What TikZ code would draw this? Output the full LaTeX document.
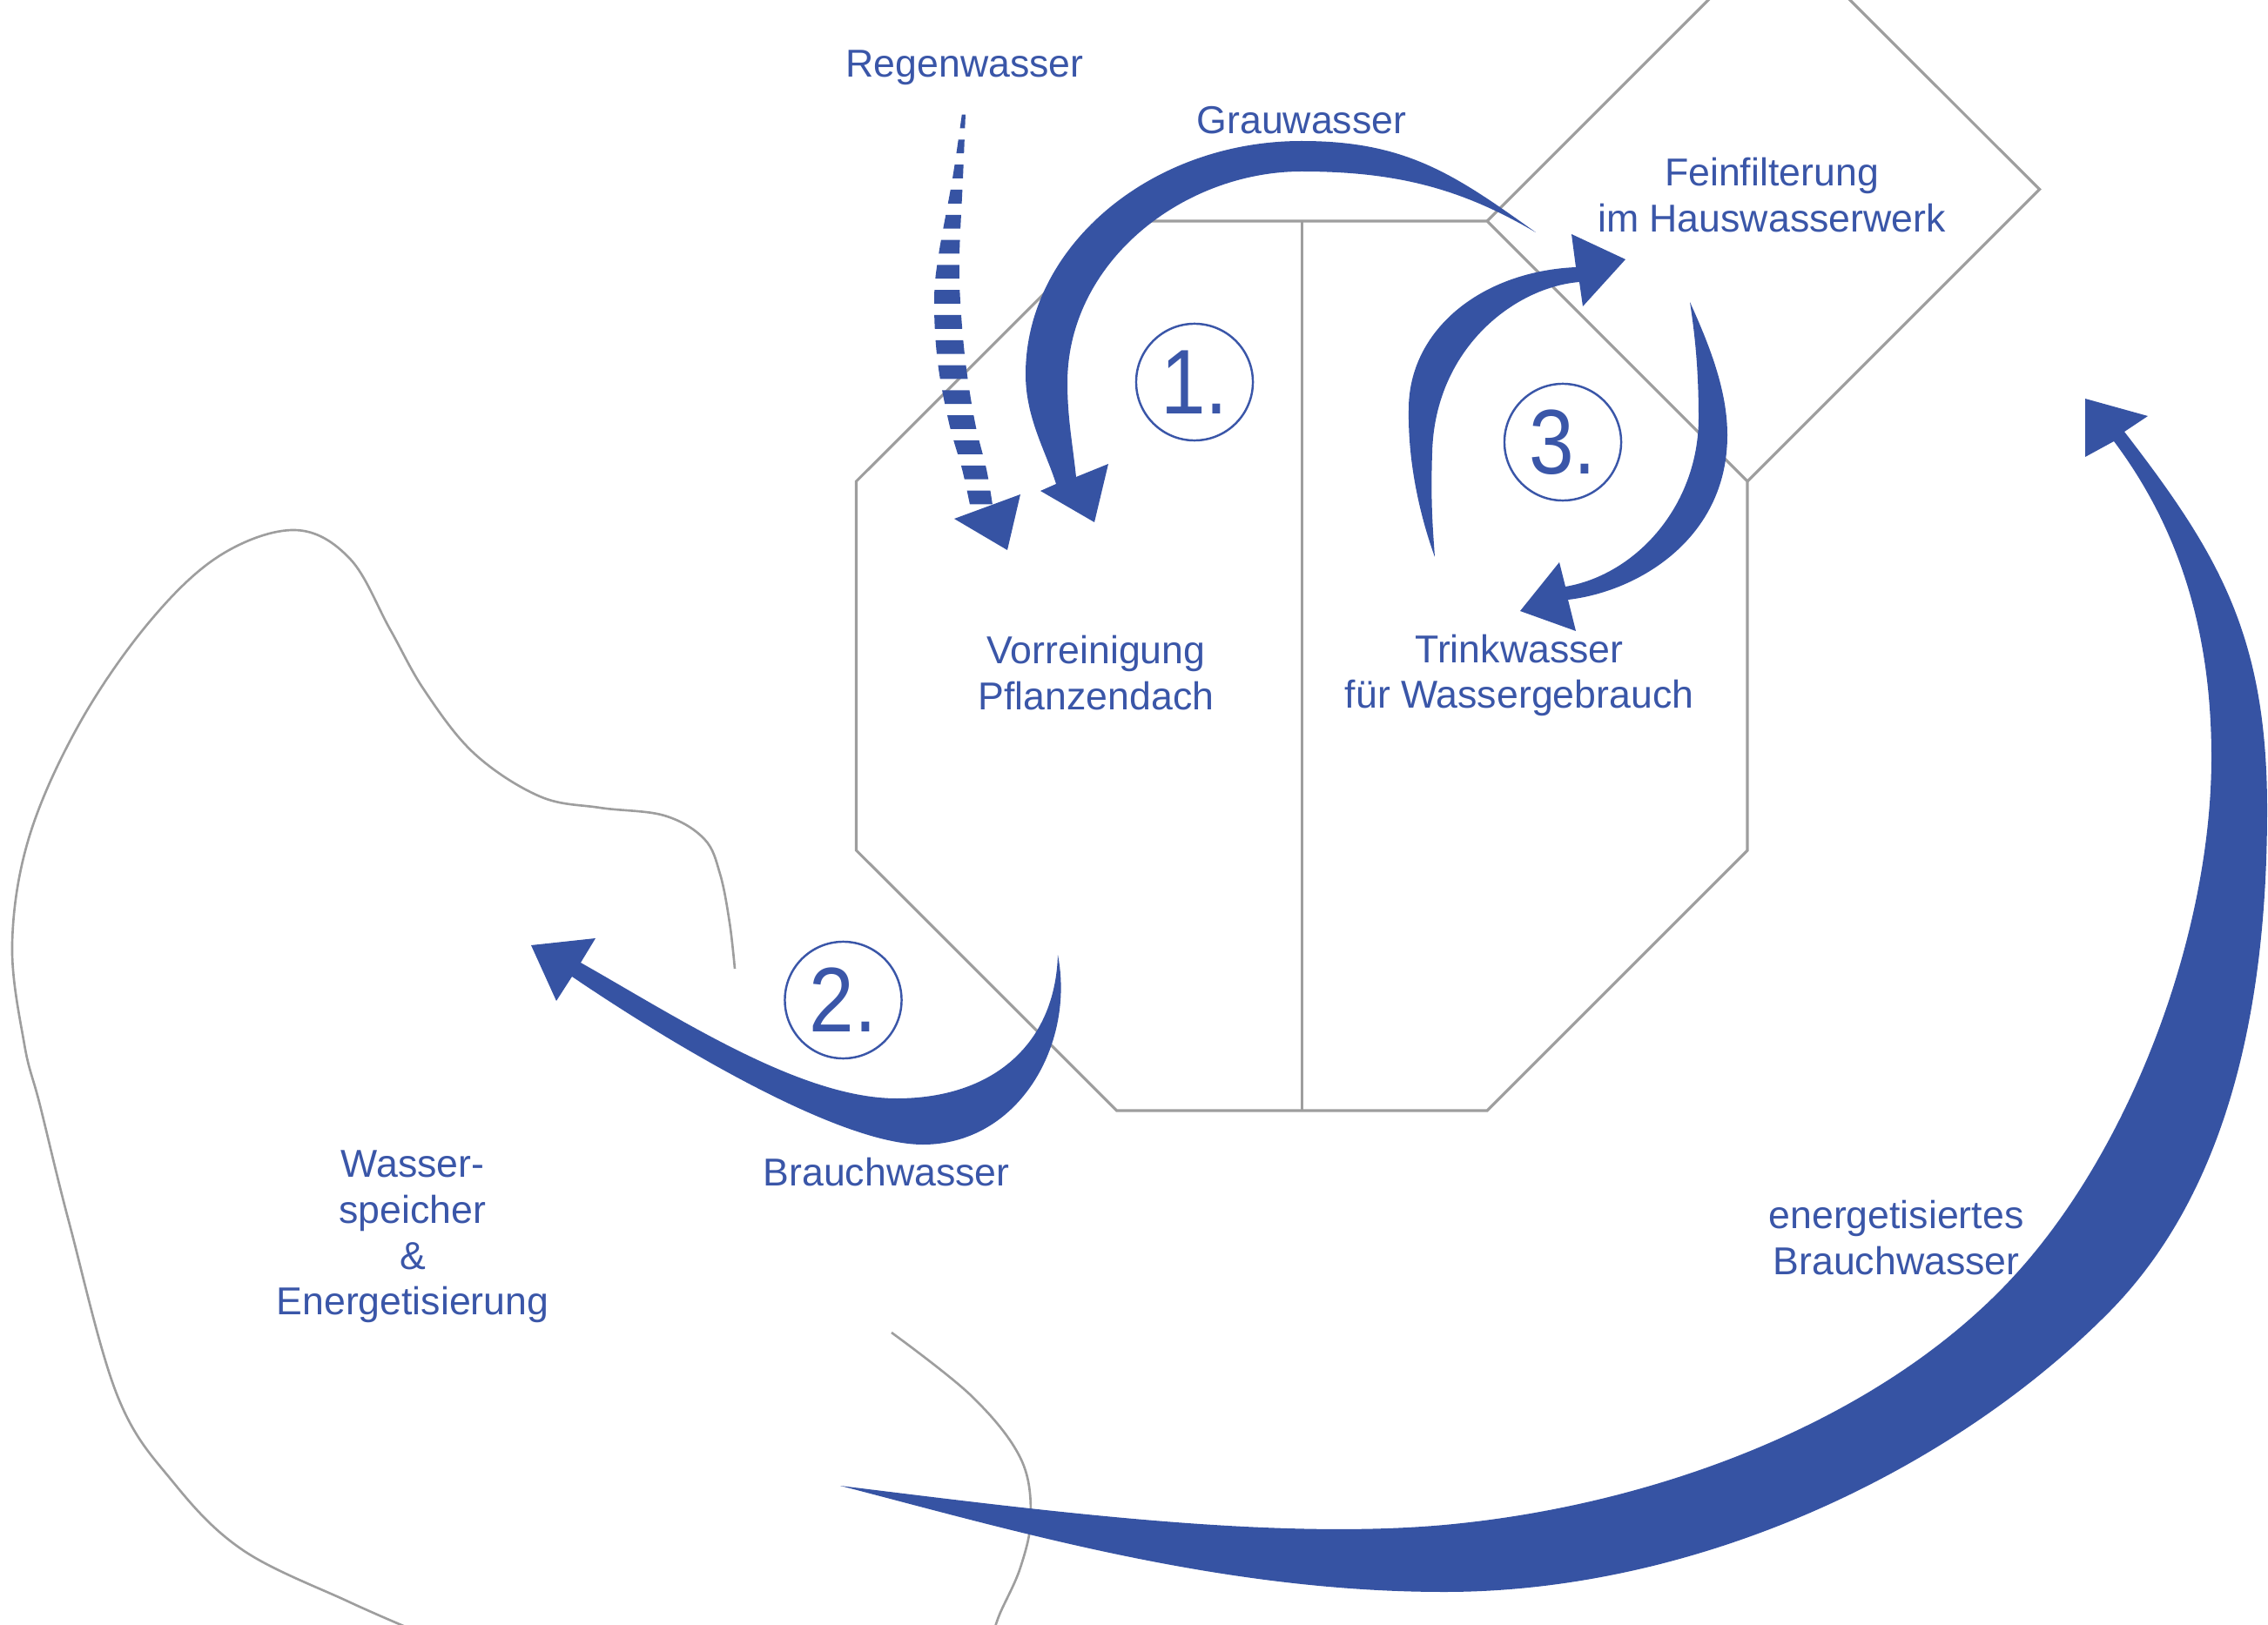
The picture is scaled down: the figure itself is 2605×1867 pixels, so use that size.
\documentclass[tikz,border=0pt]{standalone}
\usepackage{fontspec}
\setmainfont{Liberation Sans}
\definecolor{ablue}{HTML}{3653A3}
\definecolor{tblue}{HTML}{3A56A8}
\definecolor{lgray}{HTML}{9E9E9E}
\tikzset{
  outline/.style={draw=lgray, line width=0.9pt},
  blobline/.style={draw=lgray, line width=0.75pt},
  flow/.style={fill=ablue},
  lbl/.style={text=tblue, font=\fontsize{12.7}{15}\selectfont, align=center, inner sep=0pt},
  numc/.style={draw=tblue, line width=0.7pt, circle, minimum size=1.34cm, inner sep=0pt,
    text=tblue, font=\fontsize{30}{30}\selectfont}
}
\begin{document}
\begin{tikzpicture}[x=0.01cm, y=-0.01cm]
\useasboundingbox (0,0) rectangle (2605,1867);
\clip (0,0) rectangle (2605,1867);

% octagon and divider
\draw[outline] (983.5,553) -- (1282.6,254) -- (1708,254) -- (2007,553) -- (2007,977)
  -- (1708,1276) -- (1282.6,1276) -- (983.5,977) -- cycle;
\draw[outline] (1495.3,254) -- (1495.3,1276);
% diamond (Feinfilterung)
\draw[outline] (1708,254) -- (2043.5,-81.4) -- (2342.6,217.6) -- (2007,553);

% storage blob
\draw[blobline] plot[smooth, tension=0.6] coordinates {
  (844,1113) (838,1060) (827,1004) (809,964) (763,937) (689,928) (620,915)
  (545,866) (488,794) (448,723) (402,642) (339,609) (253,638) (172,714)
  (92,830) (34,960) (14,1084) (28,1200) (46,1270) (80,1407) (135,1604)
  (199,1703) (279,1781) (400,1840) (480,1875)};
\draw[blobline] plot[smooth, tension=0.6] coordinates {
  (1024,1531) (1116,1604) (1172,1675) (1184,1742) (1172,1801) (1148,1855) (1140,1880)};

% arrow 1 (Grauwasser)
\fill[flow] (1764,267) .. controls (1670,200) and (1615,162) .. (1495,162)
  .. controls (1322,162) and (1178,283) .. (1178,430)
  .. controls (1178,480) and (1201,518) .. (1213,556)
  -- (1195,564) -- (1257,600) -- (1273,533) -- (1236,548)
  .. controls (1232,510) and (1226,480) .. (1226,440)
  .. controls (1226,300) and (1360,197) .. (1495,197)
  .. controls (1605,197) and (1679,217) .. (1764,267) -- cycle;

% arrow 2 (Brauchwasser)
\fill[flow] (1215,1097) .. controls (1235,1200) and (1170,1315) .. (1060,1315)
  .. controls (960,1315) and (760,1192) .. (657,1122)
  -- (639,1150) -- (610,1086) -- (684,1078) -- (667,1106)
  .. controls (780,1170) and (920,1262) .. (1030,1262)
  .. controls (1140,1262) and (1212,1200) .. (1215,1097) -- cycle;

% arrow 3, left part (up to Feinfilterung)
\fill[flow] (1648,640) .. controls (1630,590) and (1617,530) .. (1618,470)
  .. controls (1618,380) and (1700,312) .. (1810,307)
  -- (1805,269) -- (1867,298) -- (1818,352) -- (1814,324)
  .. controls (1740,330) and (1648,400) .. (1645,520)
  .. controls (1643,580) and (1646,610) .. (1648,640) -- cycle;

% arrow 3, right part (down to Trinkwasser)
\fill[flow] (1941,347) .. controls (1965,400) and (1984,450) .. (1984,500)
  .. controls (1984,620) and (1880,680) .. (1801,689)
  -- (1810,725) -- (1746,702) -- (1791,646) -- (1798,674)
  .. controls (1880,660) and (1951,580) .. (1951,480)
  .. controls (1951,420) and (1946,380) .. (1941,347) -- cycle;

% big arrow (energetisiertes Brauchwasser)
\fill[flow] (965,1707) .. controls (1193,1735) and (1459,1770) .. (1659,1752)
  .. controls (1900,1730) and (2162,1633) .. (2316,1463)
  .. controls (2450,1315) and (2540,1070) .. (2540,870)
  .. controls (2540,720) and (2500,603) .. (2428,507)
  -- (2395,525) -- (2395,458) -- (2467,478) -- (2440,496)
  .. controls (2548,636) and (2604,730) .. (2604,930)
  .. controls (2604,1150) and (2562,1370) .. (2418,1512)
  .. controls (2240,1690) and (1950,1829) .. (1659,1829)
  .. controls (1400,1829) and (1159,1757) .. (965,1707) -- cycle;

% dashed arrow (Regenwasser)
\begin{scope}
  \clip foreach \k in {0,...,15} { (1040,{131.6+28.8*\k}) rectangle (1170,{147.4+28.8*\k}) };
  \fill[flow] plot[smooth, tension=0.6] coordinates {
    (1105,130) (1094,205) (1078,293) (1073,346) (1077,416) (1090,486) (1105,539) (1114,580)}
    -- plot[smooth, tension=0.6] coordinates {
    (1140,580) (1133,539) (1120,486) (1109,416) (1103,346) (1102,293) (1106,205) (1109,130)} -- cycle;
\end{scope}
\fill[flow] (1096,596) -- (1172,568) -- (1157,632) -- cycle;

% numbered circles
\node[numc] (c1) at (1372,439) {\scalebox{0.88}[1]{1.}};
\node[numc] (c2) at (968.5,1149) {\scalebox{0.88}[1]{2.}};
\node[numc] (c3) at (1795,508) {\scalebox{0.88}[1]{3.}};

% labels
\node[lbl] (regen) at (1108,78) {Regenwasser};
\node[lbl] (grau) at (1495,138) {Grauwasser};
\node[lbl] (fein) at (2035,224) {Feinfilterung\\im Hauswasserwerk};
\node[lbl] (vor) at (1259,773) {Vorreinigung\\Pflanzendach};
\node[lbl] (trink) at (1745,776) {Trinkwasser\\für Wassergebrauch};
\node[lbl] (brauch) at (1018,1347) {Brauchwasser};
\node[lbl] (speicher) at (474,1421) {Wasser-\\speicher\\\&\\Energetisierung};
\node[lbl] (energ) at (2178,1422) {energetisiertes\\Brauchwasser};
\end{tikzpicture}
\end{document}
